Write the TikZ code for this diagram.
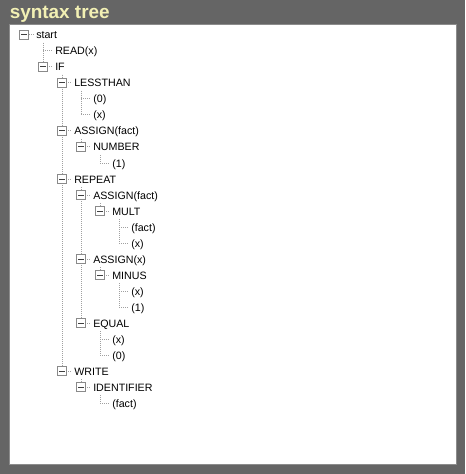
\documentclass[tikz,border=0pt]{standalone}
\usepackage{fontspec}
\setmainfont{Liberation Sans}
\begin{document}
\definecolor{frame}{HTML}{656565}
\definecolor{titlecol}{HTML}{F2F0B4}
\definecolor{panelrule}{HTML}{8C8C8C}
\definecolor{dotcol}{HTML}{A0A0A0}
\definecolor{btnrule}{HTML}{8A8A8A}
\begin{tikzpicture}[x=0.75pt,y=-0.75pt,
  label/.style={anchor=west,inner xsep=1.5pt,inner ysep=0pt,
    text height=7.5pt,text depth=1.5pt,font=\fontsize{8pt}{9pt}\selectfont,text=black},
  treeline/.style={draw=dotcol,line width=0.75pt,dash pattern=on 0.75pt off 0.75pt},
  btn/.style={draw=btnrule,line width=0.75pt,fill=white,minimum size=6.75pt,inner sep=0pt,
    path picture={\draw[line width=0.75pt,black!75]
      ([xshift=-1.9pt]path picture bounding box.center) --
      ([xshift=1.9pt]path picture bounding box.center);}},
  kids/.style={to path={([shift={(9,8)}]\tikztostart.west) |- (\tikztotarget.west)}}]
% window frame and panel
\fill[frame] (0,0) rectangle (465,474);
\useasboundingbox (0,0) rectangle (465,474);
\node[anchor=base west,inner sep=0pt,text=titlecol,font=\fontsize{14.2pt}{16pt}\selectfont\bfseries]
  (title) at (9.5,19) {syntax tree};
\draw[panelrule,line width=0.75pt,fill=white] (9.5,24.5) rectangle (456.5,464.5);
% tree entries
\node[label] (start) at (34,35)  {start};
\node[label] (read)  at (53,51)  {READ(x)};
\node[label] (if)    at (53,67)  {IF};
\node[label] (lt)    at (72,83)  {LESSTHAN};
\node[label] (lt0)   at (91,99)  {(0)};
\node[label] (ltx)   at (91,115) {(x)};
\node[label] (as1)   at (72,131) {ASSIGN(fact)};
\node[label] (num)   at (91,147) {NUMBER};
\node[label] (num1)  at (110,163) {(1)};
\node[label] (rep)   at (72,179) {REPEAT};
\node[label] (as2)   at (91,195) {ASSIGN(fact)};
\node[label] (mult)  at (110,211) {MULT};
\node[label] (mulf)  at (129,227) {(fact)};
\node[label] (mulx)  at (129,243) {(x)};
\node[label] (as3)   at (91,259) {ASSIGN(x)};
\node[label] (minus) at (110,275) {MINUS};
\node[label] (minx)  at (129,291) {(x)};
\node[label] (min1)  at (129,307) {(1)};
\node[label] (eq)    at (91,323) {EQUAL};
\node[label] (eqx)   at (110,339) {(x)};
\node[label] (eq0)   at (110,355) {(0)};
\node[label] (wr)    at (72,371) {WRITE};
\node[label] (id)    at (91,387) {IDENTIFIER};
\node[label] (idf)   at (110,403) {(fact)};
% dotted connectors, parent to child
\foreach \p/\c in {start/read,start/if,
    if/lt,if/as1,if/rep,if/wr,
    lt/lt0,lt/ltx,
    as1/num,num/num1,
    rep/as2,rep/as3,rep/eq,
    as2/mult,mult/mulf,mult/mulx,
    as3/minus,minus/minx,minus/min1,
    eq/eqx,eq/eq0,
    wr/id,id/idf}
  \draw[treeline] (\p) to[kids] (\c);
% collapse buttons
\node[btn] (bstart) at (24,35) {};
\draw[treeline] (bstart.east) -- (start.west);
\node[btn] (bif)    at (43,67)  {};
\node[btn] (blt)    at (62,83)  {};
\node[btn] (bas1)   at (62,131) {};
\node[btn] (bnum)   at (81,147) {};
\node[btn] (brep)   at (62,179) {};
\node[btn] (bas2)   at (81,195) {};
\node[btn] (bmult)  at (100,211) {};
\node[btn] (bas3)   at (81,259) {};
\node[btn] (bminus) at (100,275) {};
\node[btn] (beq)    at (81,323) {};
\node[btn] (bwr)    at (62,371) {};
\node[btn] (bid)    at (81,387) {};
\end{tikzpicture}
\end{document}
